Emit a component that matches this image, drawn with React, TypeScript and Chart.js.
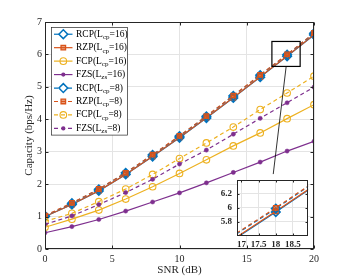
import React, { useEffect, useRef } from 'react';
import { Chart, registerables } from 'chart.js';
Chart.register(...registerables);

const snr = [0, 2, 4, 6, 8, 10, 12, 14, 16, 18, 20];
const rcp16 = [1.0, 1.37, 1.79, 2.3, 2.85, 3.43, 4.04, 4.66, 5.3, 5.94, 6.6];
const rzp16 = [1.0, 1.37, 1.8, 2.3, 2.86, 3.44, 4.05, 4.67, 5.31, 5.95, 6.61];
const fcp16 = [0.67, 0.92, 1.2, 1.54, 1.92, 2.33, 2.75, 3.18, 3.58, 4.02, 4.45];
const fzs16 = [0.5, 0.69, 0.91, 1.17, 1.45, 1.73, 2.04, 2.36, 2.68, 3.02, 3.32];
const rcp8 = [1.02, 1.41, 1.84, 2.35, 2.9, 3.48, 4.09, 4.72, 5.36, 5.99, 6.65];
const rzp8 = [1.03, 1.42, 1.85, 2.35, 2.91, 3.49, 4.1, 4.73, 5.37, 6.0, 6.66];
const fcp8 = [0.85, 1.1, 1.46, 1.85, 2.3, 2.79, 3.27, 3.76, 4.3, 4.81, 5.33];
const fzs8 = [0.76, 1.02, 1.37, 1.74, 2.15, 2.62, 3.05, 3.54, 4.03, 4.51, 4.99];

const xTicks = [0, 5, 10, 15, 20];
const yTicks = [0, 1, 2, 3, 4, 5, 6, 7];
const insetXTicks = [17, 17.5, 18, 18.5];
const insetYTicks = [5.8, 6, 6.2];
const insetXRange = [16.87, 18.94];
const insetYRange = [5.6, 6.39];
const zoomConnector = [[17.93, 5.63], [16.97, 2.31]];

const BLUE = '#0072BD';
const ORANGE = '#D95319';
const YELLOW = '#EDB120';
const PURPLE = '#7E2F8E';
const AX = '#262626';
const GRID = '#e4e4e4';
const FONT = '"Liberation Serif", "Times New Roman", serif';

type Marker = 'diamond' | 'square' | 'circle' | 'dot';
interface Series { label: string; sub: string; tail: string; data: number[]; color: string; marker: Marker; dashed: boolean; }

const series: Series[] = [
  { label: 'RCP(L', sub: 'cp', tail: '=16)', data: rcp16, color: BLUE, marker: 'diamond', dashed: false },
  { label: 'RZP(L', sub: 'cp', tail: '=16)', data: rzp16, color: ORANGE, marker: 'square', dashed: false },
  { label: 'FCP(L', sub: 'cp', tail: '=16)', data: fcp16, color: YELLOW, marker: 'circle', dashed: false },
  { label: 'FZS(L', sub: 'zs', tail: '=16)', data: fzs16, color: PURPLE, marker: 'dot', dashed: false },
  { label: 'RCP(L', sub: 'cp', tail: '=8)', data: rcp8, color: BLUE, marker: 'diamond', dashed: true },
  { label: 'RZP(L', sub: 'cp', tail: '=8)', data: rzp8, color: ORANGE, marker: 'square', dashed: true },
  { label: 'FCP(L', sub: 'cp', tail: '=8)', data: fcp8, color: YELLOW, marker: 'circle', dashed: true },
  { label: 'FZS(L', sub: 'zs', tail: '=8)', data: fzs8, color: PURPLE, marker: 'dot', dashed: true },
];

const DASH = [4, 3];
const SQ_FILL = 'rgba(217,83,25,0.55)';

function markerOpts(m: Marker, color: string) {
  switch (m) {
    case 'diamond':
      return { pointStyle: 'rectRot', pointRadius: 4.2, pointBorderWidth: 1.7, pointBackgroundColor: 'rgba(0,0,0,0)', pointBorderColor: color };
    case 'square':
      return { pointStyle: 'rect', pointRadius: 3.2, pointBorderWidth: 1.3, pointBackgroundColor: SQ_FILL, pointBorderColor: color };
    case 'circle':
      return { pointStyle: 'circle', pointRadius: 3.3, pointBorderWidth: 1.1, pointBackgroundColor: 'rgba(0,0,0,0)', pointBorderColor: color };
    default:
      return { pointStyle: 'circle', pointRadius: 2.1, pointBorderWidth: 0.5, pointBackgroundColor: color, pointBorderColor: color };
  }
}

function buildDatasets() {
  return series.map((s, i) => ({
    label: s.label + s.sub + s.tail,
    data: snr.map((x, j) => ({ x, y: s.data[j] })),
    borderColor: s.color,
    borderWidth: 1.2,
    borderDash: s.dashed ? DASH : [],
    tension: 0,
    order: series.length - i,
    ...markerOpts(s.marker, s.color),
  }));
}

function drawMarker(ctx: CanvasRenderingContext2D, m: Marker, x: number, y: number, color: string) {
  ctx.save();
  ctx.setLineDash([]);
  ctx.strokeStyle = color;
  ctx.fillStyle = color;
  ctx.beginPath();
  if (m === 'diamond') {
    const r = 4.4;
    ctx.lineWidth = 1.5;
    ctx.moveTo(x, y - r); ctx.lineTo(x + r, y); ctx.lineTo(x, y + r); ctx.lineTo(x - r, y); ctx.closePath();
    ctx.fillStyle = '#fff'; ctx.fill(); ctx.stroke();
  } else if (m === 'square') {
    const h = 3.2 * Math.SQRT1_2;
    ctx.lineWidth = 1.3;
    ctx.rect(x - h, y - h, 2 * h, 2 * h);
    ctx.fillStyle = SQ_FILL; ctx.fill();
    ctx.stroke();
  } else if (m === 'circle') {
    ctx.lineWidth = 1.1;
    ctx.arc(x, y, 3.3, 0, Math.PI * 2);
    ctx.stroke();
  } else {
    ctx.arc(x, y, 2.1, 0, Math.PI * 2);
    ctx.fill();
  }
  ctx.restore();
}

function drawBoxAndTicks(chart: any, tickLen: number) {
  const { ctx, chartArea: a, scales } = chart;
  const L = Math.round(a.left) + 0.5, R = Math.round(a.right) - 0.5;
  const T = Math.round(a.top) + 0.5, B = Math.round(a.bottom) - 0.5;
  ctx.save();
  ctx.strokeStyle = AX;
  ctx.lineWidth = 1;
  ctx.setLineDash([]);
  ctx.strokeRect(L, T, R - L, B - T);
  ctx.beginPath();
  scales.x.ticks.forEach((t: any) => {
    const px = Math.round(scales.x.getPixelForValue(t.value)) + 0.5;
    ctx.moveTo(px, B); ctx.lineTo(px, B - tickLen);
    ctx.moveTo(px, T); ctx.lineTo(px, T + tickLen);
  });
  scales.y.ticks.forEach((t: any) => {
    const py = Math.round(scales.y.getPixelForValue(t.value)) + 0.5;
    ctx.moveTo(L, py); ctx.lineTo(L + tickLen, py);
    ctx.moveTo(R, py); ctx.lineTo(R - tickLen, py);
  });
  ctx.stroke();
  ctx.restore();
}

const mainPlugin = {
  id: 'mainDecor',
  beforeDraw(chart: any) {
    const { ctx, width, height } = chart;
    ctx.save();
    ctx.fillStyle = '#fff';
    ctx.fillRect(0, 0, width, height);
    ctx.restore();
  },
  afterDatasetsDraw(chart: any) {
    const { ctx, scales } = chart;
    const x = scales.x, y = scales.y;
    ctx.save();
    ctx.strokeStyle = '#000';
    ctx.lineWidth = 1.2;
    ctx.setLineDash([]);
    const x0 = x.getPixelForValue(insetXRange[0]), x1 = x.getPixelForValue(insetXRange[1] + 0.03);
    const y0 = y.getPixelForValue(insetYRange[1] + 0.01), y1 = y.getPixelForValue(insetYRange[0] + 0.03);
    ctx.strokeRect(x0, y0, x1 - x0, y1 - y0);
    ctx.lineWidth = 0.8;
    ctx.beginPath();
    ctx.moveTo(x.getPixelForValue(zoomConnector[0][0]), y.getPixelForValue(zoomConnector[0][1]));
    ctx.lineTo(x.getPixelForValue(zoomConnector[1][0]), y.getPixelForValue(zoomConnector[1][1]));
    ctx.stroke();
    ctx.restore();
  },
  afterDraw(chart: any) {
    drawBoxAndTicks(chart, 3);
    const { ctx, chartArea: a } = chart;
    const bx = Math.round(a.left + 6) + 0.5, by = Math.round(a.top + 5) + 0.5;
    const rowH = 13.45;
    const bw = 76, bh = rowH * series.length;
    ctx.save();
    ctx.fillStyle = '#fff';
    ctx.fillRect(bx, by, bw, bh);
    ctx.strokeStyle = AX;
    ctx.lineWidth = 0.7;
    ctx.strokeRect(bx, by, bw, bh);
    series.forEach((s, i) => {
      const cy = by + rowH * (i + 0.5);
      ctx.save();
      ctx.strokeStyle = s.color;
      ctx.lineWidth = 1.2;
      ctx.setLineDash(s.dashed ? DASH : []);
      ctx.beginPath();
      ctx.moveTo(bx + 2.5, cy);
      ctx.lineTo(bx + 21, cy);
      ctx.stroke();
      ctx.restore();
      drawMarker(ctx, s.marker, bx + 11.8, cy, s.color);
      let tx = bx + 24.5;
      ctx.fillStyle = '#000';
      ctx.textBaseline = 'middle';
      ctx.textAlign = 'left';
      ctx.font = `9.5px ${FONT}`;
      ctx.fillText(s.label, tx, cy);
      tx += ctx.measureText(s.label).width;
      ctx.font = `7px ${FONT}`;
      ctx.fillText(s.sub, tx, cy + 3);
      tx += ctx.measureText(s.sub).width;
      ctx.font = `9.5px ${FONT}`;
      ctx.fillText(s.tail, tx, cy);
    });
    ctx.restore();
  },
};

const insetPlugin = {
  id: 'insetDecor',
  beforeDraw(chart: any) {
    const { ctx, chartArea: a } = chart;
    ctx.save();
    ctx.fillStyle = '#fff';
    ctx.fillRect(a.left, a.top, a.right - a.left, a.bottom - a.top);
    ctx.restore();
  },
  afterDraw(chart: any) {
    drawBoxAndTicks(chart, 2);
  },
};

export default function App() {
  const mainRef = useRef<HTMLCanvasElement | null>(null);
  const insetRef = useRef<HTMLCanvasElement | null>(null);

  useEffect(() => {
    if (!mainRef.current || !insetRef.current) return;
    const tickFont = { family: FONT, size: 10 };
    const main = new Chart(mainRef.current, {
      type: 'line',
      data: { datasets: buildDatasets() as any },
      options: {
        animation: false,
        responsive: false,
        events: [],
        layout: { padding: { left: 0, right: 33, top: 22, bottom: 0 } },
        plugins: { legend: { display: false }, tooltip: { enabled: false } },
        scales: {
          x: {
            type: 'linear', min: 0, max: 20,
            afterBuildTicks: (s: any) => { s.ticks = xTicks.map((v) => ({ value: v })); },
            ticks: { font: tickFont, color: AX, padding: 4, maxRotation: 0, autoSkip: false, callback: (v: any) => String(v) },
            grid: { color: GRID, drawTicks: false },
            border: { display: false },
            title: { display: true, text: 'SNR (dB)', font: { family: FONT, size: 11 }, color: AX, padding: { top: 0, bottom: 3 } },
            afterFit: (s: any) => { s.height = 31; },
          },
          y: {
            type: 'linear', min: 0, max: 7,
            afterBuildTicks: (s: any) => { s.ticks = yTicks.map((v) => ({ value: v })); },
            ticks: { font: tickFont, color: AX, padding: 3, autoSkip: false, callback: (v: any) => String(v) },
            grid: { color: GRID, drawTicks: false },
            border: { display: false },
            title: { display: true, text: 'Capacity (bps/Hz)', font: { family: FONT, size: 11 }, color: AX, padding: { top: 23, bottom: 0 } },
            afterFit: (s: any) => { s.width = 45; },
          },
        },
      } as any,
      plugins: [mainPlugin],
    });

    const insetFont = { family: FONT, size: 9, weight: 'bold' };
    const inset = new Chart(insetRef.current, {
      type: 'line',
      data: { datasets: buildDatasets() as any },
      options: {
        animation: false,
        responsive: false,
        events: [],
        layout: { padding: { left: 0, right: 5, top: 4, bottom: 0 } },
        plugins: { legend: { display: false }, tooltip: { enabled: false } },
        scales: {
          x: {
            type: 'linear', min: insetXRange[0], max: insetXRange[1],
            afterBuildTicks: (s: any) => { s.ticks = insetXTicks.map((v) => ({ value: v })); },
            ticks: { font: insetFont, color: AX, padding: 3, maxRotation: 0, autoSkip: false, callback: (v: any) => String(v) },
            grid: { color: GRID, drawTicks: false },
            border: { display: false },
            afterFit: (s: any) => { s.height = 18; },
          },
          y: {
            type: 'linear', min: insetYRange[0], max: insetYRange[1],
            afterBuildTicks: (s: any) => { s.ticks = insetYTicks.map((v) => ({ value: v })); },
            ticks: { font: insetFont, color: AX, padding: 5, autoSkip: false, callback: (v: any) => String(v) },
            grid: { color: GRID, drawTicks: false },
            border: { display: false },
            afterFit: (s: any) => { s.width = 27; },
          },
        },
      } as any,
      plugins: [insetPlugin],
    });

    return () => { main.destroy(); inset.destroy(); };
  }, []);

  return (
    <div style={{ position: 'fixed', left: 0, top: 0, width: 347, height: 280, background: '#fff' }}>
      <canvas ref={mainRef} width={347} height={280} style={{ position: 'absolute', left: 0, top: 0, display: 'block' }} />
      <canvas ref={insetRef} width={104} height={84} style={{ position: 'absolute', left: 210, top: 170, display: 'block' }} />
    </div>
  );
}
